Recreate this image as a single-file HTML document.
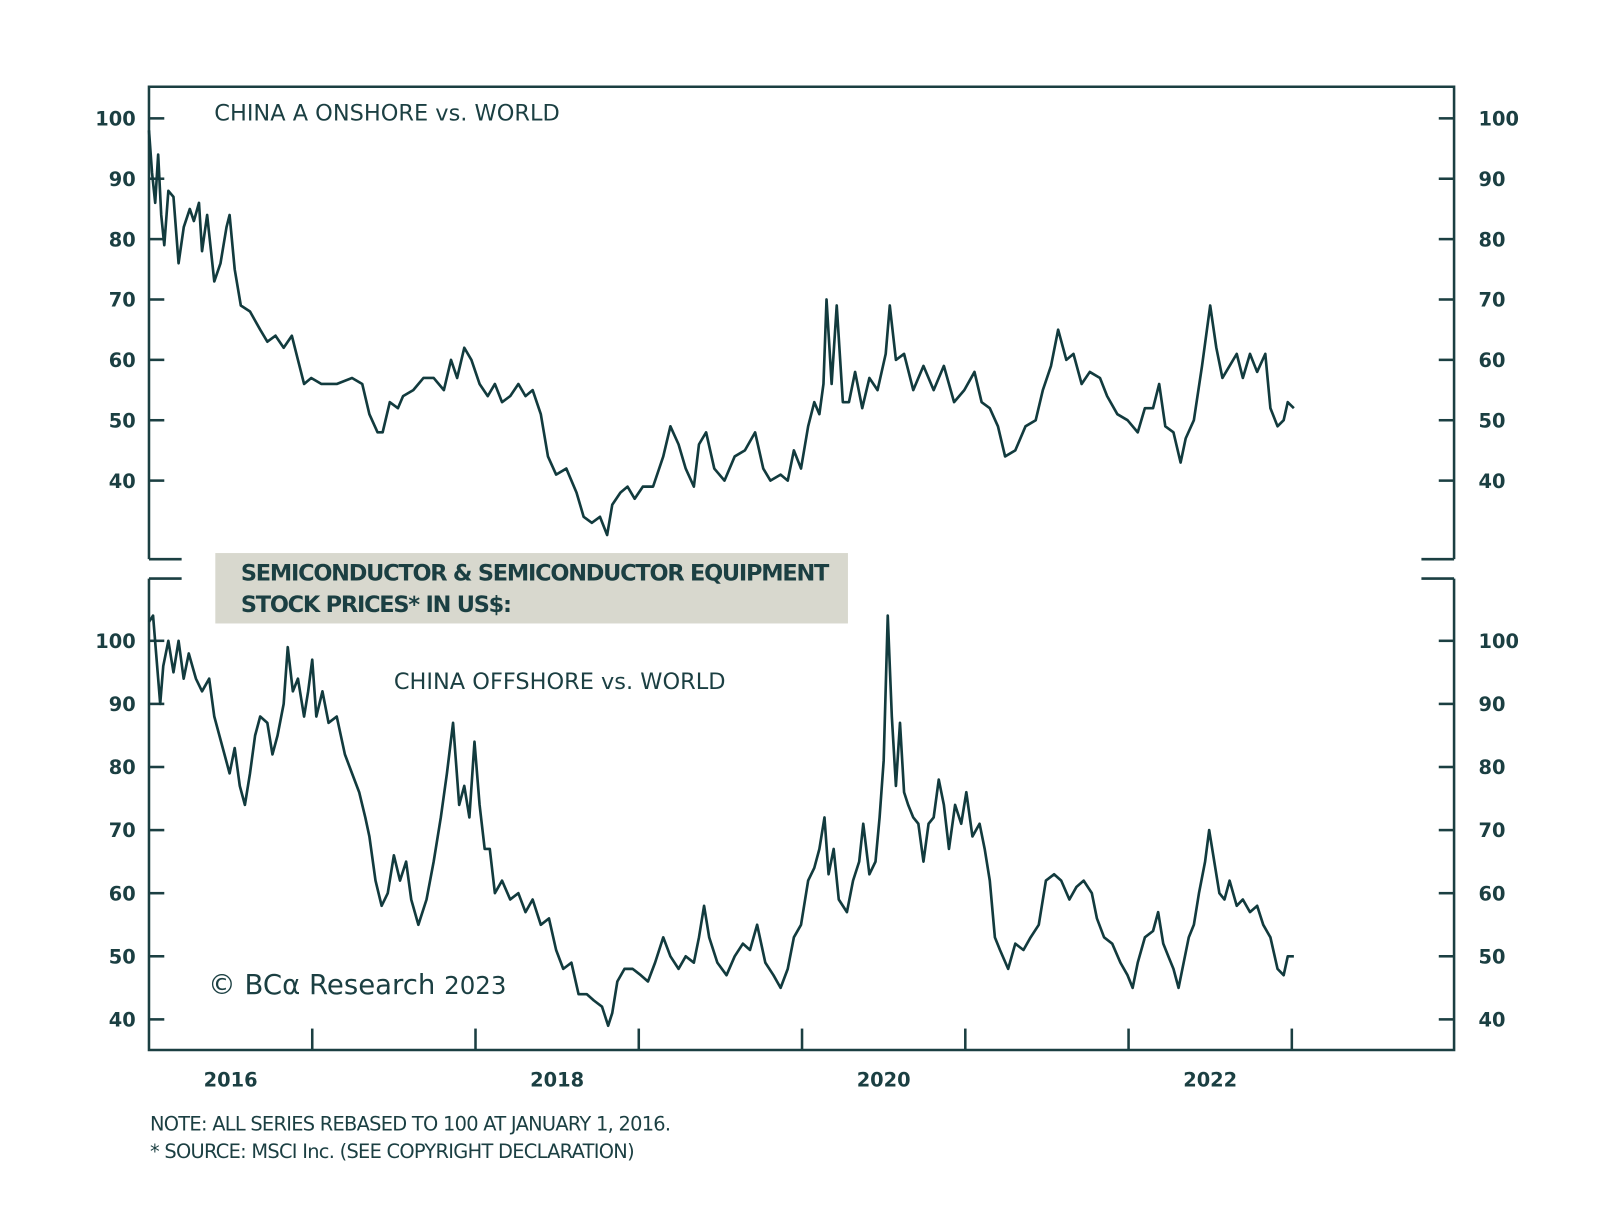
<!DOCTYPE html>
<html><head><meta charset="utf-8">
<style>
body{margin:0;background:#fff;}
svg{display:block;}
text{font-family:"DejaVu Sans","Liberation Sans",sans-serif;fill:#1b3f42;}
</style></head>
<body>
<svg id="chart" width="1600" height="1212" viewBox="0 0 1600 1212">
<g transform="scale(1.0204)">
<g id="frame" stroke="#1b3f42" stroke-width="2.5" fill="none">
<path d="M146,548 V85 H1425 V548"/>
<path d="M146,548 H178 M1393,548 H1425"/>
<path d="M146,567 V1029 H1425 V567"/>
<path d="M146,567 H178 M1393,567 H1425"/>
</g>
<rect x="211" y="542" width="620" height="69" fill="#d8d8ce"/>
<text x="236" y="569" font-size="22" font-weight="bold" letter-spacing="-1.2">SEMICONDUCTOR &amp; SEMICONDUCTOR EQUIPMENT</text>
<text x="236" y="600" font-size="22" font-weight="bold" letter-spacing="-1.2">STOCK PRICES* IN US$:</text>
<text x="210" y="118" font-size="22" letter-spacing="0">CHINA A ONSHORE vs. WORLD</text>
<text x="386" y="675" font-size="22" letter-spacing="0">CHINA OFFSHORE vs. WORLD</text>
<text x="204" y="974" font-size="27" font-family="Liberation Serif,serif">© BCα Research <tspan font-size="24">2023</tspan></text>
<text x="147" y="1108" font-size="19" letter-spacing="-0.7">NOTE: ALL SERIES REBASED TO 100 AT JANUARY 1, 2016.</text>
<text x="147" y="1135" font-size="19" letter-spacing="-0.7">* SOURCE: MSCI Inc. (SEE COPYRIGHT DECLARATION)</text>
<g id="axes"></g>
<g id="series"></g>
</g>
</svg>
<script>
const yTicks = [40,50,60,70,80,90,100];
const xTickYears = [2017,2018,2019,2020,2021,2022,2023];
const xLabels = ["2016","2018","2020","2022"];
const xLabelYears = [2016.5,2018.5,2020.5,2022.5];

const onshoreYears = [0,.019,.038,.056,.075,.094,.119,.15,.181,.213,.25,.275,.306,.325,.356,.4,.438,.475,.494,.525,.5625,.619,.681,.725,.775,.825,.875,.9125,.95,.994,1.056,1.15,1.244,1.306,1.35,1.4,1.431,1.475,1.525,1.556,1.619,1.681,1.744,1.806,1.85,1.8875,1.931,1.975,2.025,2.075,2.119,2.1625,2.2125,2.2625,2.306,2.35,2.4,2.444,2.494,2.556,2.619,2.6625,2.7125,2.7625,2.806,2.8375,2.8875,2.931,2.975,3.025,3.0875,3.15,3.194,3.244,3.2875,3.3375,3.369,3.4125,3.4625,3.525,3.5875,3.65,3.7125,3.7625,3.806,3.869,3.9125,3.95,3.994,4.0375,4.075,4.106,4.131,4.15,4.181,4.2125,4.25,4.2875,4.325,4.369,4.4125,4.4625,4.5125,4.5375,4.575,4.625,4.681,4.744,4.806,4.869,4.931,4.994,5.056,5.1,5.15,5.2,5.244,5.306,5.369,5.431,5.475,5.525,5.569,5.619,5.6625,5.7125,5.7625,5.825,5.869,5.931,5.994,6.056,6.1,6.15,6.1875,6.225,6.275,6.319,6.35,6.4,6.45,6.5,6.5375,6.575,6.619,6.6625,6.7,6.744,6.7875,6.8375,6.869,6.9125,6.95,6.975,7.0125];
const onshoreValues = [98,91,86,94,84,79,88,87,76,82,85,83,86,78,84,73,76,82,84,75,69,68,65,63,64,62,64,60,56,57,56,56,57,56,51,48,48,53,52,54,55,57,57,55,60,57,62,60,56,54,56,53,54,56,54,55,51,44,41,42,38,34,33,34,31,36,38,39,37,39,39,44,49,46,42,39,46,48,42,40,44,45,48,42,40,41,40,45,42,49,53,51,56,70,56,69,53,53,58,52,57,55,61,69,60,61,55,59,55,59,53,55,58,53,52,49,44,45,49,50,55,59,65,60,61,56,58,57,54,51,50,48,52,52,56,49,48,43,47,50,59,69,62,57,59,61,57,61,58,61,52,49,50,53,52];

const offshoreYears = [0,.025,.044,.069,.0875,.119,.15,.181,.2125,.244,.2875,.325,.369,.4,.431,.4625,.494,.525,.556,.5875,.619,.65,.681,.725,.756,.7875,.825,.85,.881,.9125,.95,.975,1.0,1.025,1.0625,1.1,1.15,1.2,1.244,1.2875,1.325,1.35,1.3875,1.425,1.4625,1.5,1.5375,1.575,1.606,1.65,1.7,1.744,1.7875,1.825,1.8625,1.9,1.931,1.9625,1.994,2.025,2.056,2.0875,2.119,2.1625,2.2125,2.2625,2.306,2.35,2.4,2.45,2.494,2.5375,2.5875,2.631,2.681,2.725,2.775,2.8125,2.8375,2.869,2.9125,2.9625,3.0125,3.056,3.1,3.15,3.194,3.244,3.2875,3.3375,3.369,3.4,3.431,3.481,3.5375,3.5875,3.6375,3.681,3.725,3.775,3.825,3.869,3.9125,3.95,3.994,4.0375,4.075,4.106,4.1375,4.1625,4.194,4.225,4.275,4.3125,4.35,4.375,4.4125,4.45,4.475,4.5,4.525,4.55,4.575,4.6,4.625,4.65,4.681,4.7125,4.744,4.775,4.806,4.8375,4.869,4.9,4.9375,4.975,5.006,5.044,5.0875,5.119,5.15,5.181,5.2125,5.2625,5.306,5.356,5.4,5.45,5.494,5.544,5.5875,5.6375,5.681,5.725,5.775,5.806,5.85,5.9,5.95,5.994,6.025,6.056,6.1,6.15,6.181,6.2125,6.244,6.275,6.306,6.3375,6.369,6.4,6.431,6.469,6.494,6.525,6.556,6.5875,6.619,6.6625,6.7,6.744,6.7875,6.825,6.869,6.9125,6.95,6.975,7.0,7.0125];
const offshoreValues = [103,104,98,90,96,100,95,100,94,98,94,92,94,88,85,82,79,83,77,74,79,85,88,87,82,85,90,99,92,94,88,92,97,88,92,87,88,82,79,76,72,69,62,58,60,66,62,65,59,55,59,65,72,79,87,74,77,72,84,74,67,67,60,62,59,60,57,59,55,56,51,48,49,44,44,43,42,39,41,46,48,48,47,46,49,53,50,48,50,49,53,58,53,49,47,50,52,51,55,49,47,45,48,53,55,62,64,67,72,63,67,59,57,62,65,71,63,65,72,81,104,88,77,87,76,74,72,71,65,71,72,78,74,67,74,71,76,69,71,67,62,53,51,48,52,51,53,55,62,63,62,59,61,62,60,56,53,52,49,47,45,49,53,54,57,52,50,48,45,49,53,55,60,65,70,65,60,59,62,58,59,57,58,55,53,48,47,50,50,50];

const NS = "http://www.w3.org/2000/svg";
const X0 = 146, PXYR = 160;
function xOf(yrs){ return X0 + yrs*PXYR; }
function xOfYear(yr){ return X0 + (yr-2016)*PXYR; }
const panels = [
  {name:"top", y100:116, y40:471, years:onshoreYears, values:onshoreValues},
  {name:"bottom", y100:628, y40:999, years:offshoreYears, values:offshoreValues}
];
function yOf(p,v){ return p.y40 + (v-40)*(p.y100-p.y40)/60; }
const axes = document.getElementById('axes');
const series = document.getElementById('series');
function mk(tag, attrs, parent){ const e=document.createElementNS(NS,tag); for(const k in attrs) e.setAttribute(k,attrs[k]); parent.appendChild(e); return e; }

panels.forEach(p=>{
  yTicks.forEach(v=>{
    const y = yOf(p,v);
    const tl = mk('line',{x1:146,x2:161,y1:y,y2:y,stroke:'#1b3f42','stroke-width':2.5},axes);
    
    
    const tr = mk('line',{x1:1410,x2:1425,y1:y,y2:y,stroke:'#1b3f42','stroke-width':2.5},axes);
    
    
    const a = mk('text',{x:133,y:y+7,'text-anchor':'end','font-size':19,'font-weight':'bold'},axes);
    a.textContent = v;
    
    
    const b = mk('text',{x:1449,y:y+7,'text-anchor':'start','font-size':19,'font-weight':'bold'},axes);
    b.textContent = v;
    
    
  });
  let d = '';
  p.years.forEach((t,i)=>{ d += (i?'L':'M') + xOf(t).toFixed(1) + ',' + yOf(p,p.values[i]).toFixed(1); });
  const path = mk('path',{d:d,fill:'none',stroke:'#123b3e','stroke-width':2.6,'stroke-linejoin':'round'},series);
  
  
});
xTickYears.forEach(yr=>{
  const x = xOfYear(yr);
  const t = mk('line',{x1:x,x2:x,y1:1008,y2:1029,stroke:'#1b3f42','stroke-width':2.5},axes);
  
  
});
xLabels.forEach((lab,i)=>{
  const t = mk('text',{x:xOfYear(xLabelYears[i]),y:1065,'text-anchor':'middle','font-size':19,'font-weight':'bold'},axes);
  t.textContent = lab;
  
  
});
</script>
</body></html>
